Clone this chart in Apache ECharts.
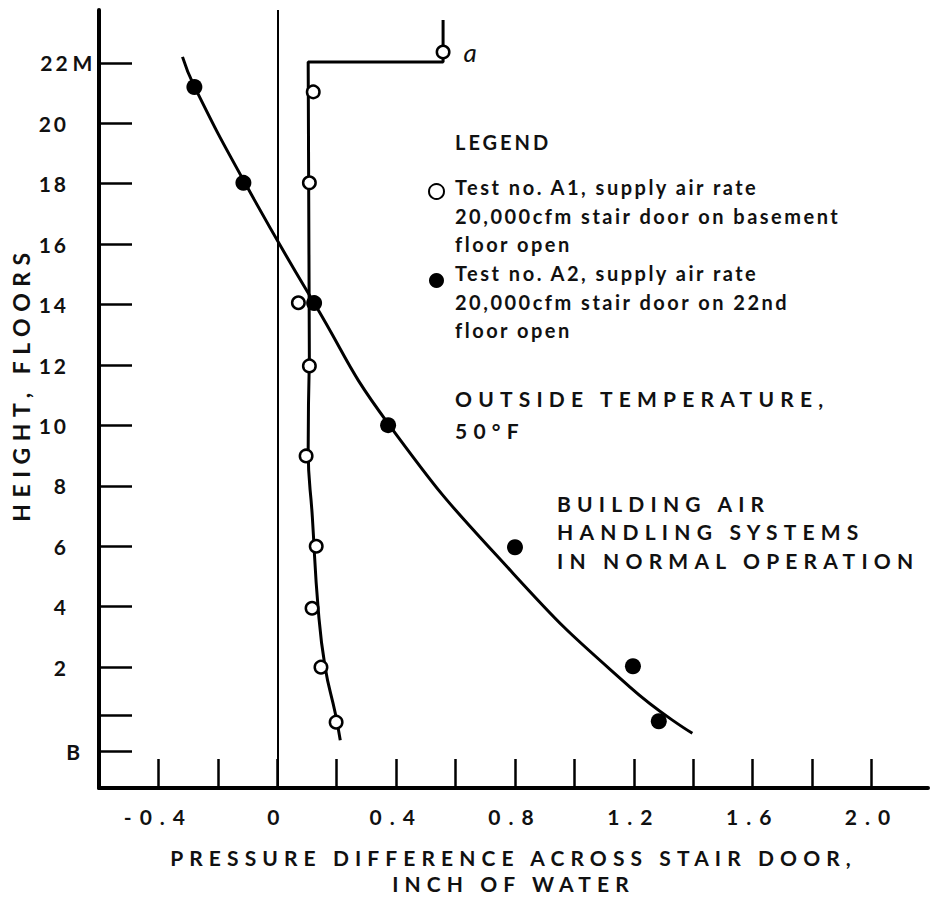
<!DOCTYPE html>
<html lang="en">
<head>
<meta charset="UTF-8">
<title>Stair door pressure difference</title>
<script src="https://cdn.jsdelivr.net/npm/echarts@6.0.0/dist/echarts.min.js"></script>
<style>
    body { margin: 0; background: #fff; }
    #chart { width: 931px; height: 897px; }
    /* letter spacing of the svg texts, keyed on a dummy fallback font name */
    #chart text[style*="spLegend"] { letter-spacing: 2.5px; }
    #chart text[style*="spHead"] { letter-spacing: 3px; }
    #chart text[style*="spTickY"] { letter-spacing: 3px; }
    #chart text[style*="spTickX"] { letter-spacing: 8px; }
    #chart text[style*="spCaps"] { letter-spacing: 6.2px; }
    #chart text[style*="spXName"] { letter-spacing: 6.1px; }
    #chart text[style*="spYName"] { letter-spacing: 6.5px; }
</style>
</head>
<body>
<div id="chart"></div>
<script>
// test A1 (open circles): stair door on basement floor open
var a1X = [0.558, 0.121, 0.108, 0.071, 0.108, 0.097, 0.131, 0.117, 0.147, 0.198];
var a1Y = [22.36, 21.04, 18.03, 14.06, 11.97, 8.99, 6.0, 3.95, 2.0, 0.18];
// test A2 (filled circles): stair door on 22nd floor open
var a2X = [-0.279, -0.114, 0.124, 0.373, 0.80, 1.197, 1.284];
var a2Y = [21.2, 18.03, 14.05, 10.01, 5.97, 2.03, 0.21];

// curves drawn through the points
var a1TopX = [0.558, 0.558, 0.104, 0.108];
var a1TopY = [23.42, 22.03, 22.03, 12.2];
var a1CurveX = [0.108, 0.104, 0.118, 0.138, 0.161, 0.195, 0.212];
var a1CurveY = [12.2, 9.2, 6.97, 3.89, 2.0, 0.48, -0.42];
var a2CurveX = [-0.319, -0.28, -0.109, 0.124, 0.372, 0.793, 1.187, 1.397];
var a2CurveY = [22.2, 21.24, 18.03, 14.05, 10.08, 5.11, 1.34, -0.19];

// axis ticks and labels
var xTicks = [-0.4, -0.2, 0, 0.2, 0.4, 0.6, 0.8, 1.0, 1.2, 1.4, 1.6, 1.8, 2.0];
var xLabels = [-0.4, 0, 0.4, 0.8, 1.2, 1.6, 2.0];
var yTicks = [22, 20, 18, 16, 14, 12, 10, 8, 6, 4, 2, 0.4, -0.8];
var yLabels = [22, 20, 18, 16, 14, 12, 10, 8, 6, 4, 2, -0.8];
var yNames = {'22': '22M', '-0.8': 'B'};

function pairs(xs, ys) {
    return xs.map(function (x, i) { return [x, ys[i]]; });
}

var ink = '#111';

var chart = echarts.init(document.getElementById('chart'), null, {renderer: 'svg'});

var a1Data = pairs(a1X, a1Y).map(function (p, i) {
    if (i !== 0) return p;
    // the "a" note on the top point
    return {
        value: p,
        label: {
            show: true, position: 'right', distance: 13, formatter: 'a',
            fontFamily: 'Lato', fontStyle: 'italic', fontSize: 26, color: ink
        }
    };
});

var option = {
    animation: false,
    backgroundColor: '#fff',
    grid: {left: 99, right: 3, top: 10, bottom: 109, outerBoundsMode: 'none'},
    xAxis: {
        type: 'value',
        min: -0.6,
        max: 2.19,
        name: 'PRESSURE DIFFERENCE ACROSS STAIR DOOR,\nINCH OF WATER',
        nameLocation: 'middle',
        nameGap: 56,
        nameTextStyle: {fontFamily: 'Lato, spXName', fontSize: 21, fontWeight: 'bold', color: ink, lineHeight: 26},
        axisLine: {onZero: false, lineStyle: {color: '#000', width: 4}},
        axisTick: {inside: true, length: 29, lineStyle: {color: '#000', width: 2.5}, customValues: xTicks},
        axisLabel: {
            customValues: xLabels, margin: 18,
            fontFamily: 'Lato, spTickX', fontSize: 21, fontWeight: 'bold', color: ink,
            formatter: function (v) { return v === 0 ? '0' : v.toFixed(1); }
        },
        splitLine: {show: false}
    },
    yAxis: {
        type: 'value',
        min: -2,
        max: 23.75,
        name: 'HEIGHT, FLOORS',
        nameLocation: 'middle',
        nameRotate: 90,
        nameGap: 64,
        nameTextStyle: {fontFamily: 'Lato, spYName', fontSize: 23, fontWeight: 'bold', color: ink, padding: [0, 0, 0, 30]},
        axisLine: {onZero: false, lineStyle: {color: '#000', width: 4}},
        axisTick: {inside: true, length: 33, lineStyle: {color: '#000', width: 2.5}, customValues: yTicks},
        axisLabel: {
            customValues: yLabels, margin: 57, align: 'left',
            fontFamily: 'Lato, spTickY', fontSize: 21, fontWeight: 'bold', color: ink,
            formatter: function (v) {
                var s = yNames[String(v)] || String(v);
                if (s === 'B') return '{b|B}';
                if (s === '22M') return '{n|22}{m|M}';
                return '{n|' + s + '}';
            },
            rich: {
                n: {width: 27, align: 'right'},
                m: {padding: [0, 0, 0, 5]},
                b: {width: 41, align: 'right'}
            }
        },
        splitLine: {show: false}
    },
    legend: {
        data: ['Test no. A1', 'Test no. A2'],
        orient: 'vertical',
        left: 423,
        top: 178,
        itemWidth: 15,
        itemHeight: 15,
        itemGap: 73,
        selectedMode: false,
        formatter: function () { return ''; }
    },
    graphic: [
        {
            type: 'text', left: 455, top: 130,
            style: {text: 'LEGEND', fontFamily: 'Lato, spHead', fontSize: 20, fontWeight: 'bold', fill: ink, lineHeight: 24}
        },
        {
            type: 'text', left: 455, top: 173,
            style: {
                text: 'Test no. A1, supply air rate\n20,000cfm stair door on basement\nfloor open',
                fontFamily: 'Lato, spLegend', fontSize: 20, fontWeight: 'bold', fill: ink, lineHeight: 28.5
            }
        },
        {
            type: 'text', left: 455, top: 259,
            style: {
                text: 'Test no. A2, supply air rate\n20,000cfm stair door on 22nd\nfloor open',
                fontFamily: 'Lato, spLegend', fontSize: 20, fontWeight: 'bold', fill: ink, lineHeight: 28.5
            }
        },
        {
            type: 'text', left: 455, top: 382,
            style: {
                text: 'OUTSIDE TEMPERATURE,\n50°F',
                fontFamily: 'Lato, spCaps', fontSize: 21, fontWeight: 'bold', fill: ink, lineHeight: 32
            }
        },
        {
            type: 'text', left: 557, top: 489,
            style: {
                text: 'BUILDING AIR\nHANDLING SYSTEMS\nIN NORMAL OPERATION',
                fontFamily: 'Lato, spCaps', fontSize: 21, fontWeight: 'bold', fill: ink, lineHeight: 28.5
            }
        }
    ],
    series: [
        {
            name: 'A1 curve top',
            type: 'line',
            data: pairs(a1TopX, a1TopY),
            symbol: 'none',
            silent: true,
            lineStyle: {color: '#000', width: 3}
        },
        {
            name: 'A1 curve',
            type: 'line',
            data: pairs(a1CurveX, a1CurveY),
            smooth: 0.5,
            symbol: 'none',
            silent: true,
            lineStyle: {color: '#000', width: 3}
        },
        {
            name: 'A2 curve',
            type: 'line',
            data: pairs(a2CurveX, a2CurveY),
            smooth: 0.5,
            symbol: 'none',
            silent: true,
            lineStyle: {color: '#000', width: 3},
            // zero pressure line
            markLine: {
                silent: true,
                symbol: 'none',
                label: {show: false},
                lineStyle: {color: '#000', width: 2, type: 'solid'},
                data: [{xAxis: 0}]
            }
        },
        {
            name: 'Test no. A1',
            type: 'scatter',
            data: a1Data,
            symbol: 'circle',
            symbolSize: 12.5,
            z: 5,
            itemStyle: {color: '#fff', borderColor: '#000', borderWidth: 2.5, opacity: 1}
        },
        {
            name: 'Test no. A2',
            type: 'scatter',
            data: pairs(a2X, a2Y),
            symbol: 'circle',
            symbolSize: 16,
            z: 5,
            itemStyle: {color: '#000', opacity: 1}
        }
    ]
};

chart.setOption(option);
</script>
</body>
</html>
